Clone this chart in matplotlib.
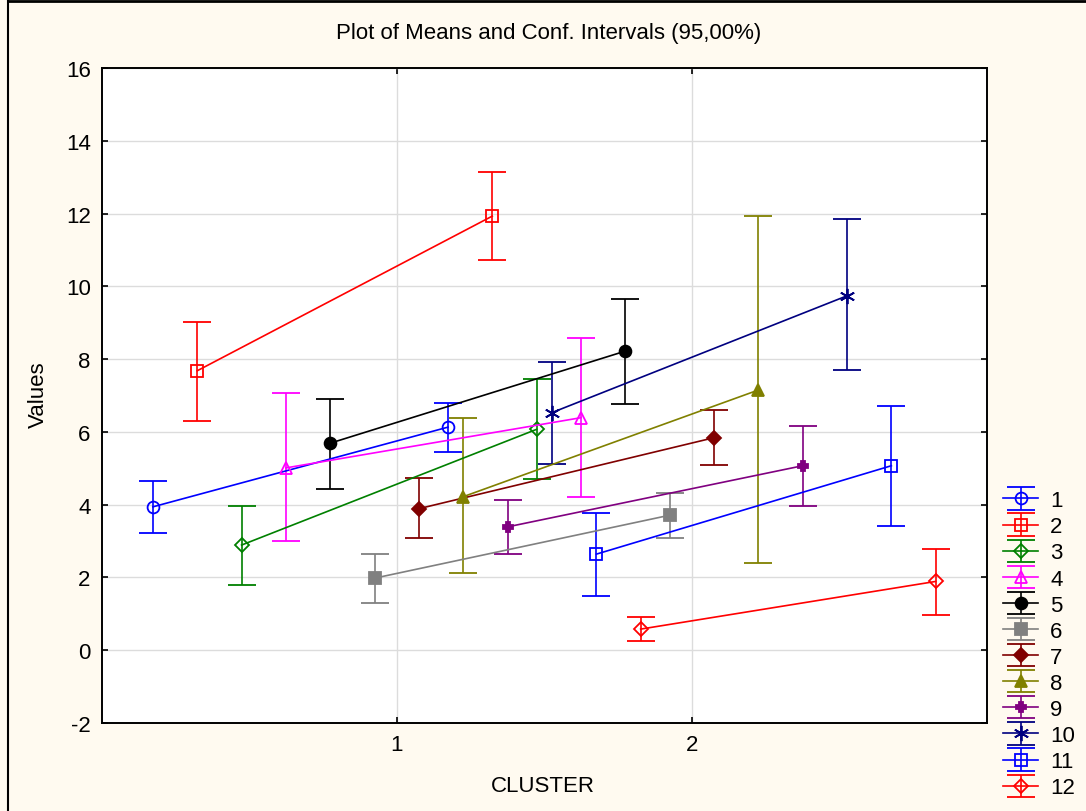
import numpy as np
import matplotlib.pyplot as plt
from matplotlib.lines import Line2D

# means and 95% confidence limits per variable, for cluster 1 and cluster 2
clusters = [1, 2]
names = [str(i) for i in range(1, 13)]
mean_c1 = [3.94, 7.68, 2.89, 5.01, 5.69, 1.98, 3.89, 4.22, 3.39, 6.53, 2.64, 0.58]
low_c1 = [3.22, 6.29, 1.80, 3.00, 4.44, 1.31, 3.07, 2.11, 2.64, 5.13, 1.48, 0.25]
high_c1 = [4.65, 9.02, 3.97, 7.08, 6.91, 2.65, 4.72, 6.38, 4.13, 7.92, 3.76, 0.90]
mean_c2 = [6.13, 11.93, 6.07, 6.39, 8.22, 3.71, 5.84, 7.15, 5.07, 9.74, 5.07, 1.89]
low_c2 = [5.45, 10.73, 4.70, 4.20, 6.76, 3.08, 5.09, 2.40, 3.96, 7.69, 3.42, 0.98]
high_c2 = [6.79, 13.13, 7.45, 8.59, 9.66, 4.32, 6.60, 11.94, 6.15, 11.84, 6.71, 2.77]

colors = ['#0000ff', '#ff0000', '#008000', '#ff00ff', '#000000', '#808080',
          '#800000', '#808000', '#800080', '#000080', '#0000ff', '#ff0000']
markers = ['o', 's', 'D', '^', 'o', 's', 'D', '^', 'P', (6, 2, 0), 's', 'D']
filled = [False, False, False, False, True, True, True, True, True, True, False, False]

plt.rcParams['font.family'] = ['Liberation Sans', 'DejaVu Sans']
plt.rcParams['axes.unicode_minus'] = False
bg = '#fffaf0'

fig = plt.figure(figsize=(10.86, 8.12), dpi=100, facecolor=bg)
ax = fig.add_axes([0.0937, 0.1084, 0.815, 0.8066])
ax.set_facecolor('white')

step = 0.1503
for i in range(len(names)):
    xs = np.array(clusters) + (i - 5.5) * step
    ys = np.array([mean_c1[i], mean_c2[i]])
    lo = ys - np.array([low_c1[i], low_c2[i]])
    hi = np.array([high_c1[i], high_c2[i]]) - ys
    col = colors[i]
    mfc = col if filled[i] else 'none'
    ms = 8.5
    if markers[i] == 'P':
        ms = 7.5
    elif markers[i] == 'D':
        ms = 7.5
    elif markers[i] == (6, 2, 0):
        ms = 11
    ax.errorbar(xs, ys, yerr=[lo, hi], color=col, marker=markers[i], mfc=mfc,
                mec=col, ms=ms, mew=1.3, lw=1.2, elinewidth=1.2, capsize=10,
                capthick=1.2, label=names[i], zorder=3 + i * 0.01)

ax.set_xlim(0, 3)
ax.set_ylim(-2, 16)
ax.set_xticks(clusters)
ax.set_yticks(np.arange(-2, 17, 2))
ax.grid(True, color='#dcdcdc', lw=1.0)
ax.set_axisbelow(True)
ax.tick_params(direction='in', length=4, top=True, right=True, labelsize=16,
               pad=8, width=1.2)
for s in ax.spines.values():
    s.set_linewidth(1.4)

fig.text(0.5055, 0.959, 'Plot of Means and Conf. Intervals (95,00%)',
         ha='center', va='center', fontsize=16)
fig.text(0.5, 0.0308, 'CLUSTER', ha='center', va='center', fontsize=16)
fig.text(0.035, 0.5135, 'Values', ha='center', va='center', fontsize=16,
         rotation=90)

fig.legend(loc='upper left', bbox_to_anchor=(0.9236, 0.395), frameon=False,
           fontsize=16, handlelength=1.58, labelspacing=0.23, handletextpad=0.54,
           borderpad=0, borderaxespad=0)

# outer frame, left and top edges
fig.add_artist(Line2D([0.0074, 0.0074], [0, 0.998], color='black', lw=1.5))
fig.add_artist(Line2D([0.0074, 1], [0.998, 0.998], color='black', lw=2))

fig.savefig('out.png', dpi=100, facecolor=bg)
